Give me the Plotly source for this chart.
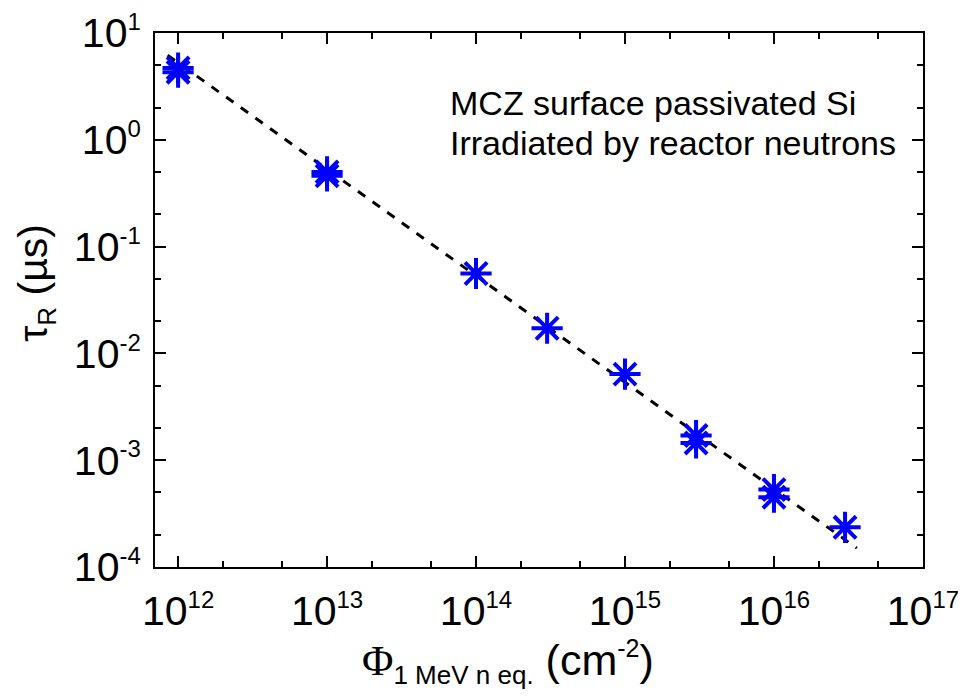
import plotly.graph_objects as go

# measured data (fluence in cm^-2, recombination lifetime in µs)
fluence = [1e12, 1e12, 1e13, 1e13, 1e14, 3e14, 1e15, 3e15, 3e15, 1e16, 1e16, 3e16]
tau_r = [4.3, 4.7, 0.46, 0.50, 0.056, 0.0172, 0.0064, 0.00145, 0.0017, 0.00045, 0.00053, 0.000235]

# fitted line endpoints
fit_x = [8.5e11, 3.6e16]
fit_y = [6.2, 1.5e-4]

# tick labels
x_tickvals = [1e12, 1e13, 1e14, 1e15, 1e16, 1e17]
x_exps = ["12", "13", "14", "15", "16", "17"]
y_tickvals = [1e-4, 1e-3, 1e-2, 1e-1, 1e0, 1e1]
y_exps = ["-4", "-3", "-2", "-1", "0", "1"]

FONT = "Arial, Liberation Sans, sans-serif"
SUP = "<sup><span style='font-size:24px'>{}</span></sup>"

fig = go.Figure()
fig.add_trace(go.Scatter(x=fit_x, y=fit_y, mode="lines",
                         line=dict(color="black", width=3, dash="dash"),
                         showlegend=False))
fig.add_trace(go.Scatter(x=fluence, y=tau_r, mode="markers",
                         marker=dict(symbol="asterisk", size=26, color="#0000ff",
                                     line=dict(color="#0000ff", width=4)),
                         showlegend=False))

axis_common = dict(
    type="log", showgrid=False, zeroline=False, automargin=False,
    showline=True, linecolor="black", linewidth=2, mirror="allticks",
    ticks="inside", ticklen=11, tickwidth=2, tickcolor="black",
    tickmode="array", ticklabeloverflow="allow",
    tickfont=dict(family=FONT, size=41, color="black"),
    minor=dict(ticks="inside", ticklen=6, tickwidth=1.5, tickcolor="black", showgrid=False),
)

# page body has an 8px margin, so the figure is drawn 16px smaller
fig.update_layout(
    width=950, height=681,
    margin=dict(l=147, r=35, t=25, b=122),
    paper_bgcolor="white", plot_bgcolor="white",
    font=dict(family=FONT, color="black"),
    xaxis=dict(axis_common, range=[11.845, 17.0004], tickvals=x_tickvals, ticklabelstandoff=7,
               ticktext=["10" + SUP.format(e) for e in x_exps]),
    yaxis=dict(axis_common, range=[-4.0004, 1.0004], tickvals=y_tickvals, ticklabelstandoff=4,
               ticktext=["10" + SUP.format(e) for e in y_exps]),
    annotations=[
        dict(x=0.3815, y=0.869, xref="paper", yref="paper", xanchor="left", yanchor="middle",
             text="MCZ surface passivated Si", showarrow=False,
             font=dict(family=FONT, size=34, color="black")),
        dict(x=0.3815, y=0.794, xref="paper", yref="paper", xanchor="left", yanchor="middle",
             text="Irradiated by reactor neutrons", showarrow=False,
             font=dict(family=FONT, size=34, color="black")),
        # x-axis title
        dict(x=0.267, y=-0.121, xref="paper", yref="paper", xanchor="left", yanchor="top",
             text="<span style='font-family:Liberation Serif, serif'>Φ</span>"
                  "<sub><span style='font-size:26px'>1 MeV n eq.</span></sub> (cm"
                  "<sup><span style='font-size:25px'>-2</span></sup>)",
             showarrow=False, font=dict(family=FONT, size=43, color="black")),
        # y-axis title
        dict(x=-0.155, y=0.532, xref="paper", yref="paper", xanchor="center", yanchor="middle",
             textangle=-90,
             text="τ<sub><span style='font-size:26px'>R</span></sub> (µs)",
             showarrow=False, font=dict(family=FONT, size=41, color="black")),
    ],
)

fig.write_html("out.html")
